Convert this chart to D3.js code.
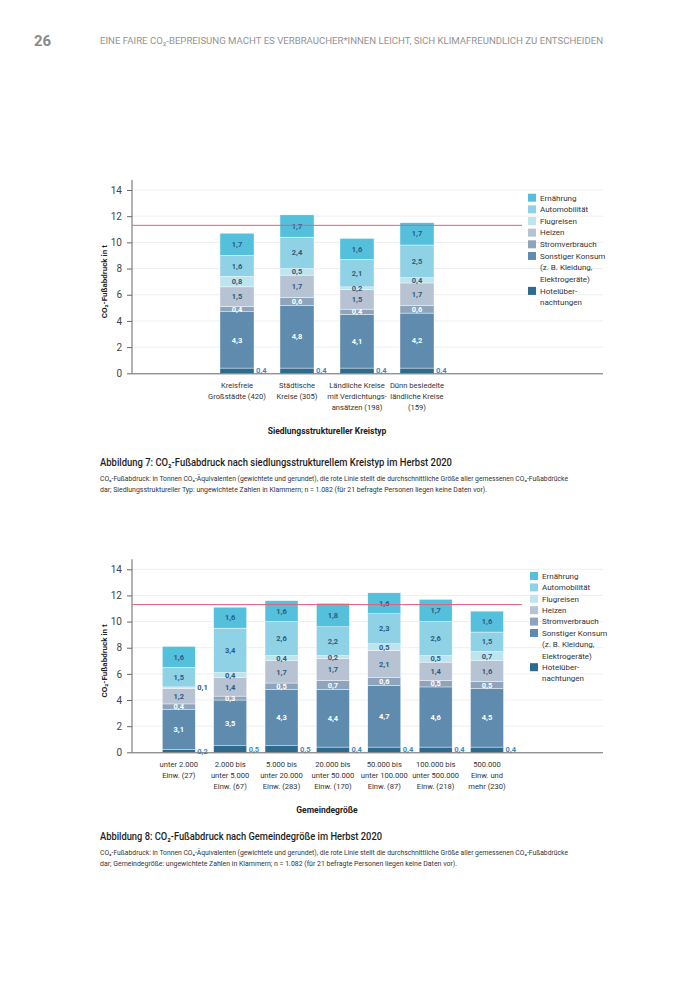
<!DOCTYPE html>
<html>
<head>
<meta charset="utf-8">
<script src="https://cdn.jsdelivr.net/npm/d3@7"></script>
<style>
  body { margin: 0; background: #fff; }
  svg { display: block; font-family: Roboto, "Open Sans", sans-serif; }
</style>
</head>
<body>
<svg width="700" height="990"></svg>
<script>
// Segment names, bottom to top
var segments = ["Hotelübernachtungen", "Sonstiger Konsum", "Stromverbrauch", "Heizen", "Flugreisen", "Automobilität", "Ernährung"];
var segColors = ["#2c6a8e", "#5f8bae", "#8ea4bd", "#b7c3d3", "#bde4ef", "#8fd2e6", "#55c0dc"];
var lightText = [true, true, true, false, false, false, false];

var legendLines = [
  { text: "Ernährung", seg: 6 },
  { text: "Automobilität", seg: 5 },
  { text: "Flugreisen", seg: 4 },
  { text: "Heizen", seg: 3 },
  { text: "Stromverbrauch", seg: 2 },
  { text: "Sonstiger Konsum", seg: 1 },
  { text: "(z. B. Kleidung,", seg: -1 },
  { text: "Elektrogeräte)", seg: -1 },
  { text: "Hotelüber-", seg: 0 },
  { text: "nachtungen", seg: -1 }
];

var yTicks = [0, 2, 4, 6, 8, 10, 12, 14];
var average = 11.3;

// Abbildung 7
var kreisLabels = [
  ["Kreisfreie", "Großstädte (420)"],
  ["Städtische", "Kreise (305)"],
  ["Ländliche Kreise", "mit Verdichtungs-", "ansätzen (198)"],
  ["Dünn besiedelte", "ländliche Kreise", "(159)"]
];
var kreisValues = [
  [0.4, 4.3, 0.4, 1.5, 0.8, 1.6, 1.7],
  [0.4, 4.8, 0.6, 1.7, 0.5, 2.4, 1.7],
  [0.4, 4.1, 0.4, 1.5, 0.2, 2.1, 1.6],
  [0.4, 4.2, 0.6, 1.7, 0.4, 2.5, 1.7]
];

// Abbildung 8
var gemeindeLabels = [
  ["unter 2.000", "Einw. (27)"],
  ["2.000 bis", "unter 5.000", "Einw. (67)"],
  ["5.000 bis", "unter 20.000", "Einw. (283)"],
  ["20.000 bis", "unter 50.000", "Einw. (170)"],
  ["50.000 bis", "unter 100.000", "Einw. (87)"],
  ["100.000 bis", "unter 500.000", "Einw. (218)"],
  ["500.000", "Einw. und", "mehr (230)"]
];
var gemeindeValues = [
  [0.2, 3.1, 0.4, 1.2, 0.1, 1.5, 1.6],
  [0.5, 3.5, 0.3, 1.4, 0.4, 3.4, 1.6],
  [0.5, 4.3, 0.5, 1.7, 0.4, 2.6, 1.6],
  [0.4, 4.4, 0.7, 1.7, 0.2, 2.2, 1.8],
  [0.4, 4.7, 0.6, 2.1, 0.5, 2.3, 1.6],
  [0.4, 4.6, 0.5, 1.4, 0.5, 2.6, 1.7],
  [0.4, 4.5, 0.5, 1.6, 0.7, 1.5, 1.6]
];

var fmt = function(v) { return String(v.toFixed(1)).replace(".", ","); };

var svg = d3.select("svg");

// Page header
svg.append("text")
  .attr("x", 34).attr("y", 46)
  .attr("font-size", "15px").attr("font-weight", "bold")
  .attr("fill", "#8a8a8a")
  .text("26");

svg.append("text")
  .attr("x", 100).attr("y", 44)
  .attr("font-size", "8.6px")
  .attr("fill", "#939393")
  .attr("textLength", 503).attr("lengthAdjust", "spacingAndGlyphs")
  .text("EINE FAIRE CO₂-BEPREISUNG MACHT ES VERBRAUCHER*INNEN LEICHT, SICH KLIMAFREUNDLICH ZU ENTSCHEIDEN");

function drawChart(o)
{
  var g = svg.append("g");

  var y = d3.scaleLinear().domain([0, 14]).range([o.y0, o.y14]);
  var x = d3.scaleBand()
    .domain(d3.range(o.values.length))
    .range(o.xRange)
    .paddingInner(o.pad)
    .paddingOuter(o.pad / 2);

  // grid
  g.selectAll(".grid")
      .data(yTicks.slice(1))
    .enter().append("line")
      .attr("x1", 132).attr("x2", 603)
      .attr("y1", function(d) { return y(d); })
      .attr("y2", function(d) { return y(d); })
      .attr("stroke", "#eceff2").attr("stroke-width", 1);

  // y axis
  var yAxis = d3.axisLeft(y).tickValues(yTicks).tickSize(5).tickPadding(5);
  var ya = g.append("g").attr("transform", "translate(132,0)").call(yAxis);
  ya.select(".domain").attr("d", "M0," + (o.y14 - 10) + "V" + o.y0).attr("stroke", "#666");
  ya.selectAll(".tick line").attr("stroke", "#666");
  ya.selectAll(".tick text")
    .attr("font-size", "10px").attr("fill", "#444")
    .attr("font-family", "Roboto, sans-serif");

  // y title
  g.append("text")
    .attr("transform", "translate(107," + ((o.y0 + o.y14) / 2) + ") rotate(-90)")
    .attr("text-anchor", "middle")
    .attr("font-size", "8px").attr("font-weight", "bold")
    .attr("fill", "#222")
    .text("CO₂-Fußabdruck in t");

  // stacked bars
  var stacked = d3.stack().keys(d3.range(segments.length))(o.values);

  var layers = g.selectAll(".layer")
      .data(stacked)
    .enter().append("g")
      .attr("fill", function(d, i) { return segColors[i]; });

  layers.selectAll("rect")
      .data(function(d) { return d; })
    .enter().append("rect")
      .attr("x", function(d, i) { return x(i); })
      .attr("width", x.bandwidth())
      .attr("y", function(d) { return y(d[1]); })
      .attr("height", function(d) { return y(d[0]) - y(d[1]); })
      .attr("stroke", "#fff").attr("stroke-width", 0.4);

  // segment labels
  stacked.forEach(function(layer, s) {
    layer.forEach(function(d, i) {
      var v = o.values[i][s];
      var cy = y((d[0] + d[1]) / 2);
      var outside = (s === 0) || v < 0.15;
      g.append("text")
        .attr("x", outside ? x(i) + x.bandwidth() + 2 : x(i) + x.bandwidth() / 2)
        .attr("y", cy)
        .attr("dy", "0.35em")
        .attr("text-anchor", outside ? "start" : "middle")
        .attr("font-size", "7.5px").attr("font-weight", "bold")
        .attr("fill", s === 0 ? "#3a8cc4" : (outside ? "#2d5a80" : (lightText[s] ? "#fff" : "#2d5a80")))
        .text(fmt(v));
    });
  });

  // average line
  g.append("line")
    .attr("x1", 132).attr("x2", 522)
    .attr("y1", y(average)).attr("y2", y(average))
    .attr("stroke", "#e0607c").attr("stroke-width", 1);

  // x axis line
  g.append("line")
    .attr("x1", 132).attr("x2", 603)
    .attr("y1", o.y0 + 0.5).attr("y2", o.y0 + 0.5)
    .attr("stroke", "#666").attr("stroke-width", 1);

  // category labels
  o.labels.forEach(function(lines, i) {
    var t = g.append("text")
      .attr("text-anchor", "middle")
      .attr("font-size", "7.6px").attr("fill", "#333");
    lines.forEach(function(l, j) {
      t.append("tspan")
        .attr("x", x(i) + x.bandwidth() / 2)
        .attr("y", o.y0 + 15 + j * 11)
        .text(l);
    });
  });

  // x title
  g.append("text")
    .attr("x", 327).attr("y", o.y0 + 61)
    .attr("text-anchor", "middle")
    .attr("font-size", "8.5px").attr("font-weight", "bold").attr("fill", "#222")
    .text(o.xTitle);

  // legend
  var lg = g.append("g");
  legendLines.forEach(function(l, j) {
    var cy = o.legendY + j * o.legendStep;
    if (l.seg >= 0) {
      lg.append("rect")
        .attr("x", o.legendX).attr("y", cy - 4)
        .attr("width", 8).attr("height", 8)
        .attr("fill", segColors[l.seg]);
    }
    lg.append("text")
      .attr("x", o.legendX + 12).attr("y", cy)
      .attr("dy", "0.35em")
      .attr("font-size", "8px").attr("fill", "#333")
      .text(l.text);
  });

  // caption
  g.append("text")
    .attr("x", 100).attr("y", o.capY)
    .attr("font-size", "10.5px").attr("font-weight", 500).attr("fill", "#1e1e1e")
    .attr("textLength", o.capW).attr("lengthAdjust", "spacingAndGlyphs")
    .text(o.caption);
  g.append("text")
    .attr("x", 100).attr("y", o.capY + 15)
    .attr("font-size", "6.8px").attr("fill", "#333")
    .attr("textLength", 468).attr("lengthAdjust", "spacingAndGlyphs")
    .text("CO₂-Fußabdruck: in Tonnen CO₂-Äquivalenten (gewichtete und gerundet), die rote Linie stellt die durchschnittliche Größe aller gemessenen CO₂-Fußabdrücke");
  g.append("text")
    .attr("x", 100).attr("y", o.capY + 26)
    .attr("font-size", "6.8px").attr("fill", "#333")
    .attr("textLength", o.noteW).attr("lengthAdjust", "spacingAndGlyphs")
    .text(o.note);
}

drawChart({
  values: kreisValues,
  labels: kreisLabels,
  y0: 373.3, y14: 190,
  xRange: [207, 447], pad: 0.433,
  xTitle: "Siedlungsstruktureller Kreistyp",
  legendX: 528, legendY: 197.7, legendStep: 11.65,
  capY: 465.5, capW: 352,
  caption: "Abbildung 7: CO₂-Fußabdruck nach siedlungsstrukturellem Kreistyp im Herbst 2020",
  note: "dar; Siedlungsstruktureller Typ: ungewichtete Zahlen in Klammern; n = 1.082 (für 21 befragte Personen liegen keine Daten vor).",
  noteW: 387
});

drawChart({
  values: gemeindeValues,
  labels: gemeindeLabels,
  y0: 752.3, y14: 569.3,
  xRange: [153.1, 512.7], pad: 0.358,
  xTitle: "Gemeindegröße",
  legendX: 530, legendY: 576, legendStep: 11.4,
  capY: 839.5, capW: 282,
  caption: "Abbildung 8: CO₂-Fußabdruck nach Gemeindegröße im Herbst 2020",
  note: "dar; Gemeindegröße: ungewichtete Zahlen in Klammern; n = 1.082 (für 21 befragte Personen liegen keine Daten vor).",
  noteW: 357
});
</script>
</body>
</html>
